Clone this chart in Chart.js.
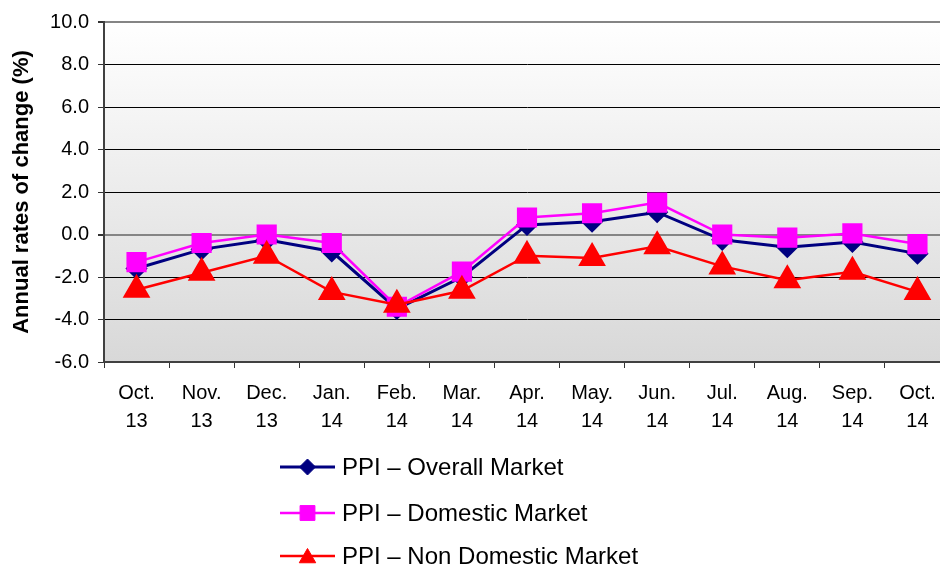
<!DOCTYPE html>
<html>
<head>
<meta charset="utf-8">
<script src="https://cdn.jsdelivr.net/npm/chart.js@4.4.1/dist/chart.umd.min.js"></script>
<style>
html, body { margin: 0; padding: 0; background: #fff; overflow: hidden; }
#wrap { width: 966px; height: 566px; }
</style>
</head>
<body>
<div id="wrap"><canvas id="ppi-chart" width="966" height="566"></canvas></div>
<script>
// categories (month / year)
const months = [
    ['Oct.', '13'], ['Nov.', '13'], ['Dec.', '13'], ['Jan.', '14'], ['Feb.', '14'],
    ['Mar.', '14'], ['Apr.', '14'], ['May.', '14'], ['Jun.', '14'], ['Jul.', '14'],
    ['Aug.', '14'], ['Sep.', '14'], ['Oct.', '14']
];

// annual rates of change (%)
const overall_market = [-1.6, -0.7, -0.25, -0.8, -3.5, -2.0, 0.45, 0.6, 1.05, -0.25, -0.6, -0.35, -0.9];
const domestic_market = [-1.3, -0.4, 0.0, -0.4, -3.4, -1.75, 0.8, 1.0, 1.5, 0.0, -0.15, 0.05, -0.45];
const non_domestic_market = [-2.6, -1.8, -1.0, -2.7, -3.3, -2.65, -1.0, -1.1, -0.55, -1.5, -2.15, -1.75, -2.7];

const series_names = ['PPI \u2013 Overall Market', 'PPI \u2013 Domestic Market', 'PPI \u2013 Non Domestic Market'];

const y_min = -6;
const y_max = 10;
const y_step = 2;

const font_family = '"Liberation Sans", Arial, sans-serif';

// plot area background: light gradient, white at top to grey at bottom
const plotBackground = {
    id: 'plotBackground',
    beforeDraw(chart) {
        const {ctx, chartArea} = chart;
        const grad = ctx.createLinearGradient(0, chartArea.top, 0, chartArea.bottom);
        grad.addColorStop(0, '#ffffff');
        grad.addColorStop(1, '#d8d8d8');
        ctx.save();
        ctx.fillStyle = grad;
        ctx.fillRect(chartArea.left, chartArea.top, chartArea.right - chartArea.left, chartArea.bottom - chartArea.top);
        ctx.restore();
    }
};

// legend stacked one item per row under the axis
const stackedLegend = {
    id: 'stackedLegend',
    afterDraw(chart) {
        const ctx = chart.ctx;
        const line_x = 280;
        const line_len = 55;
        const text_x = 342;
        const rows_y = [467, 513, 556];
        const marker_r = [8, 10.5, 9.5];
        ctx.save();
        ctx.font = '24px ' + font_family;
        ctx.textBaseline = 'middle';
        chart.data.datasets.forEach((ds, i) => {
            const y = rows_y[i];
            ctx.strokeStyle = ds.borderColor;
            ctx.lineWidth = ds.borderWidth;
            ctx.beginPath();
            ctx.moveTo(line_x, y);
            ctx.lineTo(line_x + line_len, y);
            ctx.stroke();

            ctx.fillStyle = ds.pointBackgroundColor;
            ctx.strokeStyle = ds.pointBorderColor;
            ctx.lineWidth = 1;
            Chart.helpers.drawPoint(ctx, {
                pointStyle: ds.pointStyle,
                radius: marker_r[i],
                borderWidth: 1,
                rotation: 0
            }, line_x + line_len / 2, y + (ds.pointStyle == 'triangle' ? 2 : 0));

            ctx.fillStyle = '#000000';
            ctx.fillText(ds.label, text_x, y + 1);
        });
        ctx.restore();
    }
};

const data = {
    labels: months,
    datasets: [
        {
            label: series_names[0],
            data: overall_market,
            borderColor: '#000080',
            backgroundColor: '#000080',
            pointBackgroundColor: '#000080',
            pointBorderColor: '#000080',
            borderWidth: 3,
            pointStyle: 'rectRot',
            pointRadius: 9,
            order: 3
        },
        {
            label: series_names[1],
            data: domestic_market,
            borderColor: '#ff00ff',
            backgroundColor: '#ff00ff',
            pointBackgroundColor: '#ff00ff',
            pointBorderColor: '#ff00ff',
            borderWidth: 2.5,
            pointStyle: 'rect',
            pointRadius: 12.5,
            order: 2
        },
        {
            label: series_names[2],
            data: non_domestic_market,
            borderColor: '#ff0000',
            backgroundColor: '#ff0000',
            pointBackgroundColor: '#ff0000',
            pointBorderColor: '#ff0000',
            borderWidth: 2.5,
            pointStyle: 'triangle',
            pointRadius: 13.5,
            order: 1
        }
    ]
};

const config = {
    type: 'line',
    data: data,
    plugins: [plotBackground, stackedLegend],
    options: {
        responsive: false,
        animation: false,
        layout: {
            padding: {top: 22, left: 0, right: 6, bottom: 126}
        },
        elements: {
            line: {tension: 0, fill: false},
            point: {borderWidth: 1, hoverRadius: 9}
        },
        plugins: {
            legend: {display: false},
            title: {display: false},
            tooltip: {enabled: false}
        },
        scales: {
            x: {
                type: 'category',
                offset: true,
                afterFit(scale) { scale.height = 78; },
                grid: {
                    offset: true,
                    drawOnChartArea: false,
                    drawTicks: true,
                    tickLength: 6,
                    tickColor: '#333333'
                },
                border: {color: '#404040', width: 2},
                ticks: {
                    color: '#000000',
                    padding: 11,
                    maxRotation: 0,
                    autoSkip: false,
                    font: {family: font_family, size: 20, lineHeight: 1.4}
                }
            },
            y: {
                min: y_min,
                max: y_max,
                afterFit(scale) { scale.width = 104; },
                grid: {
                    color: (c) => (c.tick && (c.tick.value === 0 || c.tick.value === y_max)) ? '#858585' : '#000000',
                    lineWidth: (c) => (c.tick && (c.tick.value === 0 || c.tick.value === y_max)) ? 2 : 1,
                    drawTicks: true,
                    tickLength: 6,
                    tickColor: '#333333'
                },
                border: {color: '#404040', width: 2},
                ticks: {
                    stepSize: y_step,
                    color: '#000000',
                    padding: 9,
                    font: {family: font_family, size: 20},
                    callback: (v) => Number(v).toFixed(1)
                },
                title: {
                    display: true,
                    text: 'Annual rates of change (%)',
                    color: '#000000',
                    padding: {top: 9, bottom: 0},
                    font: {family: font_family, size: 22, weight: 'bold'}
                }
            }
        }
    }
};

const main_chart = new Chart(document.getElementById('ppi-chart').getContext('2d'), config);
</script>
</body>
</html>
